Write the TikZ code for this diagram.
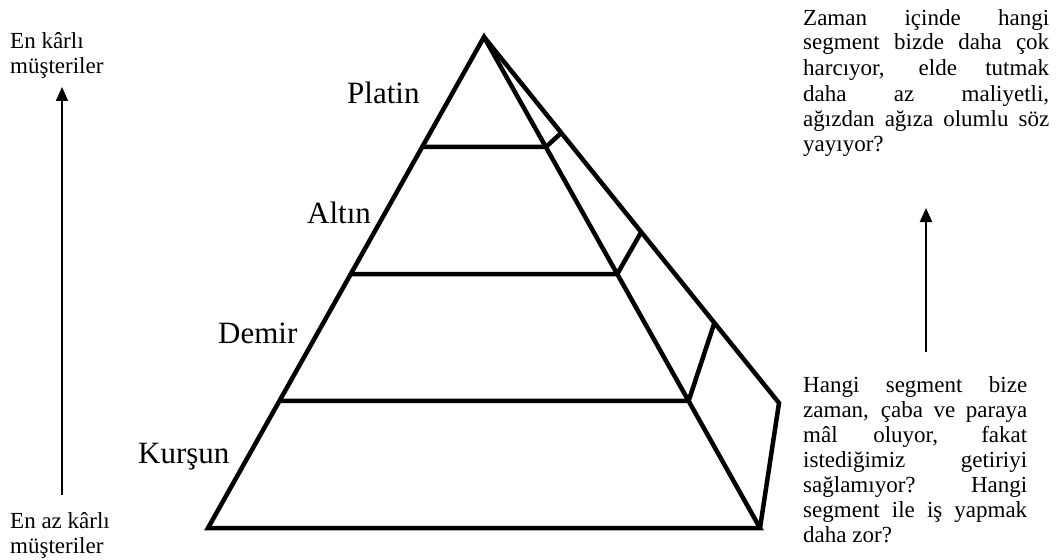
\documentclass[tikz,border=0pt]{standalone}
\usepackage{fontspec}
\setmainfont{Liberation Serif}
\usetikzlibrary{arrows.meta,calc}
\definecolor{pmedge}{RGB}{0,0,0}
\newcommand{\jl}[2]{\makebox[#1][s]{#2}}
\tikzset{
  pyr/.style={draw=pmedge, line width=4.5pt, line join=miter},
  seg/.style={font=\fontsize{31}{36}\selectfont, inner sep=0pt, anchor=base west},
  side/.style={font=\fontsize{23}{25}\selectfont, inner sep=0pt, align=left, anchor=base west},
  arr/.style={-{Triangle[length=14pt,width=12pt]}, draw=pmedge, line width=2pt}
}
\begin{document}
\begin{tikzpicture}[x=1pt, y=-1pt]
  \useasboundingbox (0,0) rectangle (1059,559);
  % pyramid corners
  \coordinate (apex) at (484,37);
  \coordinate (bl) at (208,528);
  \coordinate (br) at (760,528);
  \coordinate (bk) at (779,403);
  \coordinate (l1) at ($(apex)!0.224!(bl)$);
  \coordinate (l2) at ($(apex)!0.4827!(bl)$);
  \coordinate (l3) at ($(apex)!0.7413!(bl)$);
  \coordinate (r1) at ($(apex)!0.224!(br)$);
  \coordinate (r2) at ($(apex)!0.4827!(br)$);
  \coordinate (r3) at ($(apex)!0.7413!(br)$);
  \coordinate (k1) at ($(apex)!0.262!(bk)$);
  \coordinate (k2) at ($(apex)!0.533!(bk)$);
  \coordinate (k3) at ($(apex)!0.781!(bk)$);
  \draw[pyr] (bl) -- (apex) -- (br) -- cycle;
  \draw[pyr] (apex) -- (bk) -- (br);
  \draw[pyr] (l1) -- (r1) -- (k1);
  \draw[pyr] (l2) -- (r2) -- (k2);
  \draw[pyr] (l3) -- (r3) -- (k3);

  \node[seg] (plat) at (347,103) {Platin};
  \node[seg] (alt) at (307,223) {Altın};
  \node[seg] (dem) at (218,343) {Demir};
  \node[seg] (kur) at (138,463) {Kurşun};

  % base of a multi-line node = last line
  \node[side] (most) at (10,74) {En kârlı\\müşteriler};
  \node[side] (least) at (10,553) {En az kârlı\\müşteriler};
  \coordinate (la) at (62,495);
  \coordinate (lb) at (62,87);
  \draw[arr] (la) -- (lb);

  \node[side] (qtop) at (803,151) {%
    \jl{246pt}{Zaman içinde hangi}\\
    \jl{246pt}{segment bizde daha çok}\\
    \jl{246pt}{harcıyor, elde tutmak}\\[1pt]
    \jl{246pt}{daha az maliyetli,}\\
    \jl{246pt}{ağızdan ağıza olumlu söz}\\
    yayıyor?};
  \node[side] (qbot) at (803,542) {%
    \jl{224pt}{Hangi segment bize}\\
    \jl{224pt}{zaman, çaba ve paraya}\\
    \jl{224pt}{mâl oluyor, fakat}\\
    \jl{224pt}{istediğimiz getiriyi}\\
    \jl{224pt}{sağlamıyor? Hangi}\\
    \jl{224pt}{segment ile iş yapmak}\\
    daha zor?};
  \coordinate (ra) at (926,352);
  \coordinate (rb) at (926,208);
  \draw[arr] (ra) -- (rb);
\end{tikzpicture}
\end{document}
